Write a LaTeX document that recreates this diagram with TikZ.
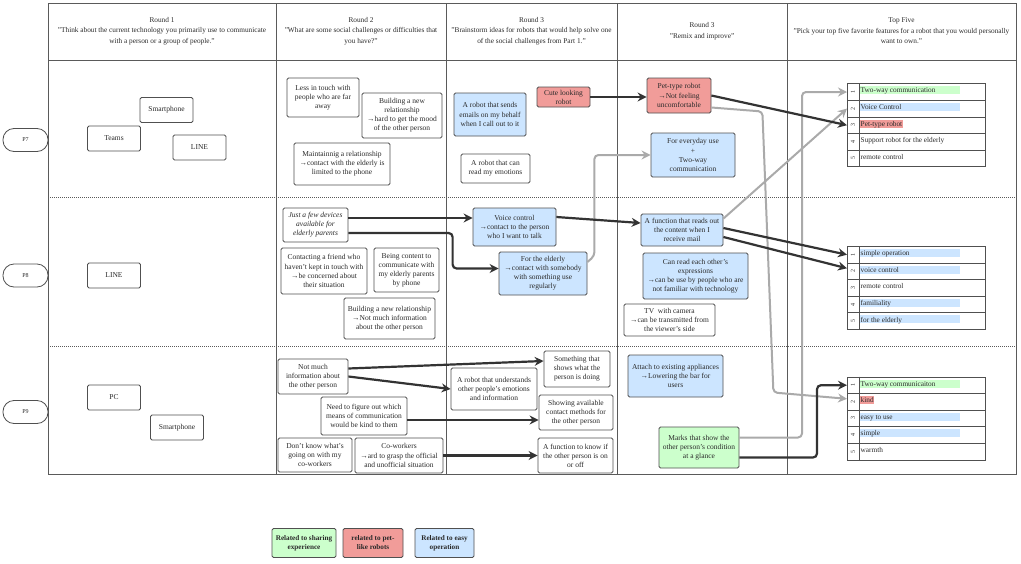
\documentclass[tikz,border=0pt]{standalone}
\usepackage{fontspec}
\setmainfont{Liberation Serif}
\usetikzlibrary{arrows.meta,calc}
\definecolor{bl}{HTML}{CCE5FF}
\definecolor{rd}{HTML}{F19C99}
\definecolor{gn}{HTML}{CCFFCC}
\definecolor{edgec}{HTML}{505050}
\definecolor{gridc}{HTML}{5A5A5A}
\definecolor{dk}{HTML}{333333}
\definecolor{gy}{HTML}{AAAAAA}
\definecolor{txt}{HTML}{2A2A2A}
\newcommand\cardsize{\fontsize{7.5}{9.1}\selectfont}
\newcommand\listsize{\fontsize{7.3}{9}\selectfont}
\newcommand\hdrsize{\fontsize{7.3}{10.5}\selectfont}
\newcommand\numsize{\fontsize{6}{6}\selectfont}
\newcommand\fiverow[6]{%
  \node[draw=edgec, line width=0.8pt, minimum width=138pt, minimum height=16.6pt, anchor=north west, inner sep=0pt] (#1) at (847,#2) {};
  \draw[edgec, line width=0.8pt] ($(#1.north west)+(12,0)$) -- ($(#1.south west)+(12,0)$);
  \node[rotate=90, font=\numsize, text=txt, inner sep=0pt] at ($(#1.west)+(6,0)$) {#3};
  \path[fill=#5] ($(#1.north west)+(13,3)$) rectangle ++(#6,8);
  \node[anchor=base west, inner sep=0pt, font=\listsize, text=txt] at ($(#1.north west)+(13.5,9.6)$) {#4};
}
\begin{document}
\begin{tikzpicture}[x=1pt,y=-1pt,
  card/.style={draw=edgec, line width=0.8pt, rounded corners=1.5pt, fill=white, align=center, font=\cardsize, text=txt, inner sep=1pt},
  bcard/.style={card, fill=bl},
  rcard/.style={card, fill=rd},
  gcard/.style={card, fill=gn},
  hdr/.style={align=center, font=\hdrsize, text=txt, inner sep=0pt},
  pill/.style={draw=edgec, line width=0.8pt, rounded corners=11pt, minimum width=45pt, minimum height=23pt, font=\numsize, text=txt, inner sep=0pt},
  legend/.style={card, font=\fontsize{7.2}{9}\selectfont\bfseries, minimum height=29pt},
  dkarrow/.style={draw=dk, line width=2.2pt, rounded corners=4pt, -{Stealth[length=9pt,width=9pt,inset=3pt]}},
  gyarrow/.style={draw=gy, line width=2pt, rounded corners=4pt, -{Stealth[length=9pt,width=9pt,inset=3pt]}},
  gridline/.style={draw=gridc, line width=0.9pt},
  dotline/.style={draw=gridc, line width=0.7pt, dash pattern=on 1pt off 1pt}
]
\useasboundingbox (0,0) rectangle (1021,563);
\fill[white] (0,0) rectangle (1021,563);

% table
\draw[gridline] (48,3) rectangle (1016,474);
\draw[gridline] (48,60) -- (1016,60);
\foreach \xx in {276,446,617,787} \draw[gridline] (\xx,3) -- (\xx,474);
\draw[dotline] (48,197) -- (1016,197);
\draw[dotline] (48,346) -- (1016,346);

% headers
\node[hdr] (h1) at (162,31) {Round 1\\"Think about the current technology you primarily use to communicate\\with a person or a group of people."};
\node[hdr] (h2) at (361,31) {Round 2\\"What are some social challenges or difficulties that\\you have?"};
\node[hdr] (h3) at (531.5,31) {Round 3\\"Brainstorm ideas for robots that would help solve one\\of the social challenges from Part 1."};
\node[hdr] (h4) at (702,31) {Round 3\\"Remix and improve"};
\node[hdr] (h5) at (901.5,31) {Top Five\\"Pick your top five favorite features for a robot that you would personally\\want to own."};

% participants
\node[pill] (p7) at (25.5,140) {P7};
\node[pill] (p8) at (25.5,275.5) {P8};
\node[pill] (p9) at (25.5,412) {P9};

% Round 1
\node[card, minimum width=53pt, minimum height=25pt] (r1sp7) at (166.5,110) {Smartphone};
\node[card, minimum width=53pt, minimum height=25pt] (r1teams) at (114,138.5) {Teams};
\node[card, minimum width=53pt, minimum height=25pt] (r1line7) at (199.5,147.5) {LINE};
\node[card, minimum width=53pt, minimum height=25pt] (r1line8) at (114,275.5) {LINE};
\node[card, minimum width=53pt, minimum height=25pt] (r1pc) at (114,397.5) {PC};
\node[card, minimum width=53pt, minimum height=25pt] (r1sp9) at (177,427.5) {Smartphone};

% Round 2 P7
\node[card, minimum width=72pt, minimum height=39pt] (less) at (323,97.5) {Less in touch with\\people who are far\\away};
\node[card, minimum width=80pt, minimum height=45pt] (bnr7) at (402,115.5) {Building a new\\relationship\\→hard to get the mood\\of the other person};
\node[card, minimum width=96pt, minimum height=42pt] (maint) at (342,164) {Maintainnig a relationship\\→contact with the elderly is\\limited to the phone};
% Round 3 P7
\node[bcard, minimum width=72pt, minimum height=43pt] (emails) at (490,114.5) {A robot that sends\\emails on my behalf\\when I call out to it};
\node[rcard, minimum width=53pt, minimum height=20pt, inner sep=0.5pt] (cute) at (563.5,97) {Cute looking\\robot};
\node[card, minimum width=69pt, minimum height=29pt] (emot) at (495.5,168.5) {A robot that can\\read my emotions};
% Remix P7
\node[rcard, minimum width=64pt, minimum height=35pt] (pet) at (679,95.5) {Pet-type robot\\→Not feeling\\uncomfortable};
\node[bcard, minimum width=84pt, minimum height=44pt] (everyday) at (693,155) {For everyday use\\+\\Two-way\\communication};

% Round 2 P8
\node[card, minimum width=65pt, minimum height=34pt, font=\cardsize\itshape] (jfd) at (315.5,225) {Just a few devices\\available for\\elderly parents};
\node[card, minimum width=86pt, minimum height=46pt] (friend) at (324,271) {Contacting a friend who\\haven't kept in touch with\\→be concerned about\\their situation};
\node[card, minimum width=65pt, minimum height=44pt] (content) at (406.5,270) {Being content to\\communicate with\\my elderly parents\\by phone};
\node[card, minimum width=91pt, minimum height=41pt] (bnr8) at (389.5,318.5) {Building a new relationship\\→Not much information\\about the other person};
% Round 3 P8
\node[bcard, minimum width=83pt, minimum height=38pt] (voice) at (514.5,227) {Voice control\\→contact to the person\\who I want to talk};
\node[bcard, minimum width=88pt, minimum height=43pt] (elder) at (543,273.5) {For the elderly\\→contact with somebody\\with something use\\regularly};
% Remix P8
\node[bcard, minimum width=82pt, minimum height=32pt] (func) at (682,230) {A function that reads out\\the content when I\\receive mail};
\node[bcard, minimum width=105pt, minimum height=46pt] (expr) at (695.5,276) {Can read each other's\\expressions\\→can be use by people who are\\not familiar with technology};
\node[card, minimum width=91pt, minimum height=32pt] (tv) at (669.5,320) {TV\ \ with camera\\→can be transmitted from\\the viewer's side};

% Round 2 P9
\node[card, minimum width=70pt, minimum height=35pt] (nmi) at (313,376.5) {Not much\\information about\\the other person};
\node[card, minimum width=86pt, minimum height=38pt] (need) at (364,416) {Need to figure out which\\means of communication\\would be kind to them};
\node[card, minimum width=74pt, minimum height=34pt] (dk) at (315,455) {Don't know what's\\going on with my\\co-workers};
\node[card, minimum width=88pt, minimum height=35pt] (cow) at (399,455.5) {Co-workers\\→ard to grasp the official\\and unofficial situation};
% Round 3 P9
\node[card, minimum width=86pt, minimum height=42pt] (robund) at (494,389) {A robot that understands\\other people's emotions\\and information};
\node[card, minimum width=66pt, minimum height=36pt] (shows) at (577,369) {Something that\\shows what the\\person is doing};
\node[card, minimum width=74pt, minimum height=35pt] (avail) at (576,412.5) {Showing available\\contact methods for\\the other person};
\node[card, minimum width=75pt, minimum height=35pt] (fkn) at (575.5,455.5) {A function to know if\\the other person is on\\or off};
% Remix P9
\node[bcard, minimum width=95pt, minimum height=42pt] (attach) at (675.5,376) {Attach to existing appliances\\→Lowering the bar for\\users};
\node[gcard, minimum width=80pt, minimum height=41pt] (marks) at (699,447.5) {Marks that show the\\other person's condition\\at a glance};

% Top five lists
\fiverow{t7r1}{83.3}{1}{Two-way communication}{gn}{100}
\fiverow{t7r2}{99.9}{2}{Voice Control}{bl}{100}
\fiverow{t7r3}{116.5}{3}{Pet-type robot}{rd}{43}
\fiverow{t7r4}{133.1}{4}{Support robot for the elderly}{none}{0}
\fiverow{t7r5}{149.7}{5}{remote control}{none}{0}

\fiverow{t8r1}{246}{1}{simple operation}{bl}{100}
\fiverow{t8r2}{262.6}{2}{voice control}{bl}{100}
\fiverow{t8r3}{279.2}{3}{remote control}{none}{0}
\fiverow{t8r4}{295.8}{4}{familiality}{bl}{100}
\fiverow{t8r5}{312.4}{5}{for the elderly}{bl}{100}

\fiverow{t9r1}{376.5}{1}{Two-way communicaiton}{gn}{100}
\fiverow{t9r2}{393.1}{2}{kind}{rd}{14}
\fiverow{t9r3}{409.7}{3}{easy to use}{bl}{100}
\fiverow{t9r4}{426.3}{4}{simple}{bl}{100}
\fiverow{t9r5}{442.9}{5}{warmth}{none}{0}

% Legend
\node[legend, fill=gn, minimum width=64pt] (lg1) at (304,543) {Related to sharing\\experience};
\node[legend, fill=rd, minimum width=60pt] (lg2) at (373,543) {related to pet-\\like robots};
\node[legend, fill=bl, minimum width=59pt] (lg3) at (444.5,543) {Related to easy\\operation};

% gray connectors
\coordinate (e1) at ($(elder.east)+(0,-11.5)$);
\draw[gyarrow] (e1) -- ++(7,-6) |- (everyday.west);
\coordinate (pt1) at ($(pet.east)+(0,12)$);
\draw[gyarrow] (pt1) -- ++(51,4) -- ++(11,281) -- ($(t9r2.west)+(0,-3)$);
\draw[gyarrow] ($(func.north east)+(0,5)$) -- (t7r2.west);
\coordinate (mk1) at ($(marks.east)+(0,-10)$);
\draw[gyarrow] (mk1) -| ($(t7r1.west)+(-45,0)$) -- (t7r1.west);

% dark connectors
\draw[dkarrow] (cute.east) -- (cute.east -| pet.west);
\draw[dkarrow] (pet.east) -- (t7r3.west);
\coordinate (a1) at ($(jfd.east)+(0,-7)$);
\draw[dkarrow] (a1) -- (a1 -| voice.west);
\coordinate (b1) at ($(jfd.east)+(0,8)$);
\coordinate (b2) at ($(elder.west)+(0,-5)$);
\draw[dkarrow] (b1) -| ($(b2)+(-46,0)$) -- (b2);
\draw[dkarrow] ($(voice.east)+(0,-10)$) -- ($(func.west)+(0,-7)$);
\draw[dkarrow] ($(func.east)+(0,-2)$) -- (t8r1.west);
\draw[dkarrow] ($(func.east)+(0,7)$) -- ($(t8r2.west)+(0,-3)$);
\draw[dkarrow] ($(nmi.east)+(0,-8)$) -- ($(shows.west)+(0,-8)$);
\draw[dkarrow] (nmi.east) -- (robund.west);
\coordinate (c1) at ($(need.east)+(0,4)$);
\draw[dkarrow] (c1) -- (c1 -| avail.west);
\draw[dkarrow] (cow.east) -- (fkn.west);
\coordinate (m1) at ($(marks.east)+(0,10)$);
\draw[dkarrow] (m1) -| ($(t9r1.west)+(-30,0)$) -- (t9r1.west);
\end{tikzpicture}
\end{document}
